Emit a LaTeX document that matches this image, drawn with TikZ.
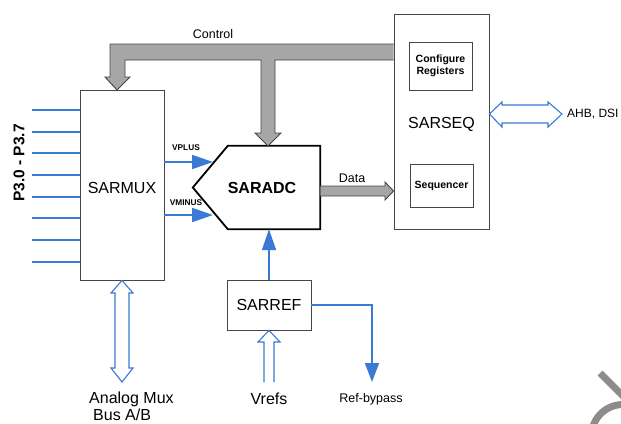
\documentclass[tikz,border=0pt]{standalone}
\usepackage{fontspec}
\setmainfont{Liberation Sans}
\usepackage{tikz}
\usetikzlibrary{arrows.meta,positioning,calc}

\definecolor{sigblue}{RGB}{58,122,212}
\definecolor{busgray}{RGB}{166,166,166}
\definecolor{edgegray}{RGB}{70,70,70}

\begin{document}
\begin{tikzpicture}[
    x=1pt, y=-1pt,
    blk/.style={rectangle, draw=edgegray, line width=0.9pt, fill=white, inner sep=0pt, font=\fontsize{16}{19}\selectfont},
    sub/.style={rectangle, draw=edgegray, line width=0.9pt, inner sep=0pt, align=center, font=\fontsize{10.5}{12.5}\selectfont\bfseries},
    adc/.style={rectangle, inner sep=0pt, minimum width=127pt, minimum height=83pt},
    sig/.style={draw=sigblue, line width=1.8pt},
    tip/.style={-{Triangle[length=21pt,width=14pt]}},
    hollow/.style={draw=sigblue, line width=1.1pt, fill=white, line join=miter},
    bus/.style={draw=edgegray, line width=0.9pt, fill=busgray, line join=miter},
    lbl/.style={inner sep=0pt, font=\fontsize{12.5}{15}\selectfont},
    big/.style={inner sep=0pt, font=\fontsize{16}{19}\selectfont},
    pin/.style={inner sep=0pt, font=\fontsize{8.3}{10}\selectfont\bfseries}
]
    \useasboundingbox (0,0) rectangle (621,423);

    % Blocks
    \node[blk, minimum width=84pt, minimum height=190pt, text height=17.5pt] (sarmux) at (122,185) {SARMUX};
    \node[blk, minimum width=95pt, minimum height=215pt, text height=18pt] (sarseq) at (441.5,121.5) {SARSEQ};
    \node[sub, minimum width=63pt, minimum height=48pt] (cfgreg) at (440.5,66) {Configure\\Registers};
    \node[sub, minimum width=63pt, minimum height=43pt] (seqr) at (441.5,185.5) {Sequencer};
    \node[blk, minimum width=84pt, minimum height=50pt] (sarref) at (269,305) {SARREF};

    % ADC body
    \node[adc] (saradc) at (256.5,187.5) {};
    \draw[line width=1.8pt, line join=miter] (saradc.north east) -- (saradc.south east)
        -- ([xshift=35pt]saradc.south west) -- (saradc.west)
        -- ([xshift=35pt]saradc.north west) -- cycle;
    \node[inner sep=0pt, font=\fontsize{16}{19}\selectfont\bfseries] (adctext) at ([xshift=5.5pt]saradc.center) {SARADC};

    % Port pins
    \node[rotate=90, inner sep=0pt, font=\fontsize{15.5}{18}\selectfont\bfseries] (ports) at (19,163) {P3.0 - P3.7};
    \foreach \y [count=\i] in {110,132,153,175,197,218,240,262} {
        \coordinate (in\i) at (32,\y);
        \draw[sig] (in\i) -- (in\i -| sarmux.west);
    }

    % Mux outputs
    \coordinate (vp) at (213,162);
    \coordinate (vm) at (213,215);
    \draw[sig, tip] (sarmux.east |- vp) -- (vp);
    \draw[sig, tip] (sarmux.east |- vm) -- (vm);
    \node[pin] (vplus) at (186,148) {VPLUS};
    \node[pin] (vminus) at (186,203) {VMINUS};

    % Control bus
    \draw[bus] (sarseq.west |- 0,44) -- (110,44) -- (110,77) -- (105,77) -- (117,90)
        -- (130,77) -- (125,77) -- (125,60) -- (261,60) -- (261,133) -- (255,133)
        -- (268,146) -- (281,133) -- (275,133) -- (275,60) -- (sarseq.west |- 0,60);
    \node[lbl] (ctrl) at (213,34) {Control};

    % Data bus
    \draw[bus] (saradc.east |- 0,186) -- (385,186) -- (385,182) -- (sarseq.west |- 0,191)
        -- (385,200) -- (385,196) -- (saradc.east |- 0,196) -- cycle;
    \node[lbl] (data) at (352,178) {Data};

    % AHB / DSI
    \coordinate (ahb) at (562,114);
    \draw[hollow] (sarseq.east |- ahb) -- (502,102) -- (502,105) -- (548,105) -- (548,102)
        -- (ahb) -- (548,127) -- (548,123) -- (502,123) -- (502,127) -- cycle;
    \node[lbl, anchor=west, font=\fontsize{12}{14}\selectfont] (ahbtext) at (567,114) {AHB, DSI};

    % Analog mux bus
    \coordinate (amux) at (122,382);
    \draw[hollow] (sarmux.south) -- (133,293) -- (129,293) -- (129,368) -- (133,368)
        -- (amux) -- (111,368) -- (115,368) -- (115,293) -- (111,293) -- cycle;
    \node[inner sep=0pt, anchor=north west, align=left, font=\fontsize{16}{17}\selectfont] (amuxtext) at (89,392) {Analog Mux\\\hspace*{4pt}Bus A/B};

    % Reference
    \draw[sig, tip] (sarref.north) -- (sarref.north |- saradc.south);
    \coordinate (bypass) at (372,382);
    \draw[sig, -{Triangle[length=19pt,width=14pt]}] (sarref.east) -| (bypass);
    \node[lbl] (bypasstext) at (371,399) {Ref-bypass};
    \draw[hollow, fill=none] (264,382) -- (264,342) -- (258,342) -- (sarref.south)
        -- (280,342) -- (274,342) -- (274,382);
    \node[big] (vrefs) at (269,399) {Vrefs};

    % Logo fragment
    \begin{scope}
        \clip (0,0) rectangle (621,423);
        \draw[line width=7pt, gray!90] (600,373) -- (626,399);
        \draw[line width=7pt, gray!90] (623,436) ++(160:31.5) arc[start angle=160, end angle=300, radius=31.5];
    \end{scope}
\end{tikzpicture}
\end{document}
